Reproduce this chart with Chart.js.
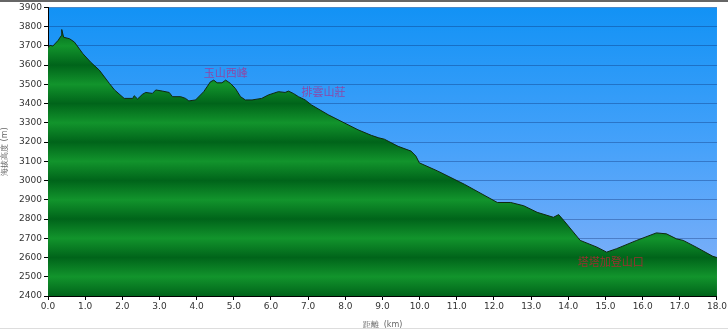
<!DOCTYPE html>
<html>
<head>
<meta charset="utf-8">
<script src="https://cdn.jsdelivr.net/npm/chart.js@4.4.1/dist/chart.umd.min.js"></script>
<style>
  html, body { margin: 0; padding: 0; background: #fff; }
  #wrap { width: 728px; height: 330px; position: relative; }
</style>
</head>
<body>
<div id="wrap"><canvas id="profile"></canvas></div>
<script>
// distance along the trail (km) and elevation (m)
var distKm = [0, 0.05, 0.13, 0.27, 0.36, 0.37, 0.42, 0.58, 0.71, 0.94, 1.15, 1.38, 1.65, 1.79,
  2.05, 2.28, 2.32, 2.41, 2.54, 2.63, 2.81, 2.9, 3.08, 3.26, 3.35, 3.57, 3.7, 3.79, 3.97,
  4.19, 4.37, 4.46, 4.55, 4.68, 4.78, 4.91, 5.04, 5.18, 5.31, 5.49, 5.75, 5.93, 6.2, 6.38,
  6.47, 6.6, 6.74, 6.92, 7.09, 7.54, 7.99, 8.34, 8.7, 8.9, 9.05, 9.42, 9.77, 9.9, 9.99,
  10.48, 11.2, 12.09, 12.45, 12.8, 13.16, 13.6, 13.74, 13.88, 14.32, 14.77, 15.03, 15.3,
  15.84, 16.37, 16.64, 16.91, 17.09, 17.44, 17.89, 18.0];
var elevM = [3690, 3703, 3699, 3728, 3754, 3785, 3745, 3737, 3720, 3659, 3615, 3574, 3505, 3471,
  3427, 3427, 3441, 3424, 3448, 3458, 3453, 3471, 3465, 3458, 3436, 3436, 3427, 3414, 3419,
  3462, 3513, 3522, 3508, 3508, 3522, 3505, 3479, 3436, 3419, 3419, 3427, 3445, 3462, 3458,
  3465, 3453, 3436, 3419, 3393, 3342, 3298, 3264, 3235, 3222, 3215, 3178, 3153, 3127, 3092,
  3050, 2981, 2886, 2886, 2869, 2835, 2809, 2823, 2792, 2689, 2654, 2628, 2646,
  2689, 2728, 2723, 2697, 2689, 2654, 2606, 2600];

// place names written on the profile
var placeNames = ['玉山西峰', '排雲山莊', '塔塔加登山口'];
var placeKm = [4.78, 7.41, 15.14];
var placeElev = [3560, 3462, 2580];
var placeColors = ['#8a4aa8', '#8a4aa8', '#9a3030'];

var yMin = 2400, yMax = 3900, xMax = 18.0;

var points = distKm.map(function (d, i) { return { x: d, y: elevM[i] }; });

// blue sky behind the plot, plus the thin frame lines of the picture
var skyPlugin = {
  id: 'sky',
  beforeDraw: function (chart) {
    var a = chart.chartArea;
    var ctx = chart.ctx;
    var g = ctx.createLinearGradient(0, a.top, 0, a.bottom);
    g.addColorStop(0, 'rgb(18,146,245)');
    g.addColorStop(0.5, 'rgb(72,162,250)');
    g.addColorStop(1, 'rgb(136,178,248)');
    ctx.save();
    ctx.fillStyle = g;
    ctx.fillRect(a.left, a.top, a.right - a.left, a.bottom - a.top);
    ctx.fillStyle = '#666';
    ctx.fillRect(0, 0, chart.width, 2);
    ctx.fillStyle = '#ddd';
    ctx.fillRect(0, chart.height - 2, chart.width, 1);
    ctx.restore();
  }
};

// names on the profile
var namesPlugin = {
  id: 'names',
  afterDatasetsDraw: function (chart) {
    var ctx = chart.ctx;
    var xs = chart.scales.x, ys = chart.scales.y;
    ctx.save();
    ctx.font = '11px "Noto Sans CJK TC"';
    ctx.textAlign = 'center';
    ctx.textBaseline = 'middle';
    placeNames.forEach(function (name, i) {
      ctx.fillStyle = placeColors[i];
      ctx.fillText(name, xs.getPixelForValue(placeKm[i]), ys.getPixelForValue(placeElev[i]));
    });
    ctx.restore();
  }
};

// green fill, dark band every 200 m
function groundFill(context) {
  var chart = context.chart;
  var a = chart.chartArea;
  if (!a) return 'green';
  var ys = chart.scales.y;
  var g = chart.ctx.createLinearGradient(0, a.top, 0, a.bottom);
  for (var v = yMax; v >= yMin; v -= 100) {
    var t = (ys.getPixelForValue(v) - a.top) / (a.bottom - a.top);
    t = Math.min(1, Math.max(0, t));
    g.addColorStop(t, v % 200 === 0 ? 'rgb(0,100,26)' : 'rgb(18,148,44)');
  }
  return g;
}

new Chart(document.getElementById('profile'), {
  type: 'line',
  data: {
    datasets: [{
      data: points,
      fill: 'start',
      backgroundColor: groundFill,
      borderColor: '#102810',
      borderWidth: 1,
      pointRadius: 0,
      tension: 0
    }]
  },
  options: {
    responsive: true,
    maintainAspectRatio: false,
    animation: false,
    layout: { padding: { top: 5, right: 7, left: 0, bottom: 0 } },
    plugins: {
      legend: { display: false },
      tooltip: { enabled: false }
    },
    scales: {
      x: {
        type: 'linear',
        min: 0,
        max: xMax,
        afterFit: function (scale) { scale.height = 34; },
        border: { display: true, color: '#000', width: 1 },
        grid: { drawOnChartArea: false, drawTicks: true, tickLength: 4, tickColor: '#000' },
        ticks: {
          stepSize: 1,
          includeBounds: false,
          maxRotation: 0,
          autoSkip: false,
          padding: 1,
          color: '#333',
          font: { family: 'DejaVu Sans', size: 9 },
          callback: function (value) { return value.toFixed(1); }
        },
        title: {
          display: true,
          text: '距離  (km)',
          color: '#666',
          padding: { top: 2, bottom: 0 },
          font: { family: 'DejaVu Sans', size: 8 }
        }
      },
      y: {
        min: yMin,
        max: yMax,
        afterFit: function (scale) { scale.width = 48; },
        border: { display: true, color: '#000', width: 1 },
        grid: { color: 'rgba(10,40,110,0.35)', lineWidth: 1, drawTicks: true, tickLength: 4, tickColor: '#000' },
        ticks: {
          stepSize: 100,
          padding: 2,
          color: '#333',
          font: { family: 'DejaVu Sans', size: 9 },
          callback: function (value) { return String(value); }
        },
        title: {
          display: true,
          text: '海拔高度 (m)',
          color: '#666',
          padding: { top: 0, bottom: 2 },
          font: { family: 'DejaVu Sans', size: 8 }
        }
      }
    }
  },
  plugins: [skyPlugin, namesPlugin]
});
</script>
</body>
</html>
